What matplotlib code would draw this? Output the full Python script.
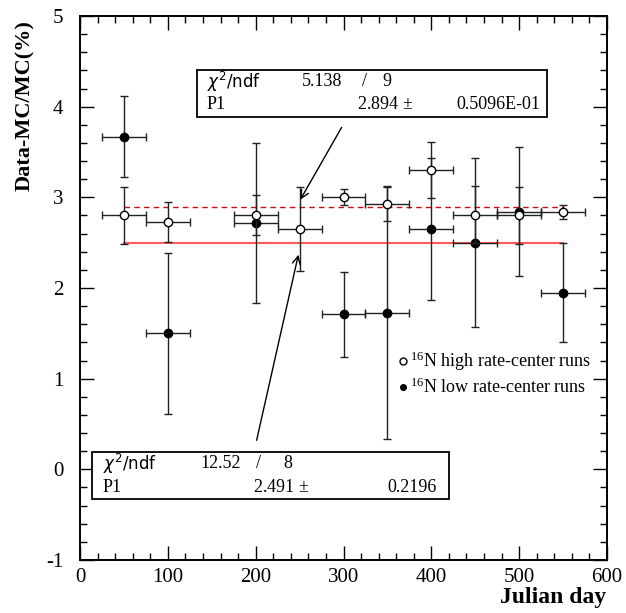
import matplotlib
matplotlib.use("Agg")
import matplotlib.pyplot as plt
from matplotlib.ticker import MultipleLocator

# ---- data ----
days_high = [50, 100, 200, 250, 300, 350, 400, 450, 500, 550]
val_high = [2.80, 2.73, 2.81, 2.65, 3.00, 2.93, 3.30, 2.81, 2.80, 2.84]
err_high = [0.31, 0.22, 0.22, 0.46, 0.09, 0.19, 0.31, 0.31, 0.31, 0.08]

days_low = [50, 100, 200, 300, 350, 400, 450, 500, 550]
val_low = [3.67, 1.50, 2.72, 1.71, 1.72, 2.65, 2.50, 2.84, 1.95]
err_low = [0.45, 0.89, 0.88, 0.47, 1.39, 0.78, 0.93, 0.71, 0.55]

day_err = 25
fit_high = 2.894
fit_low = 2.491
fit_range = [50, 550]

legend_labels = [r"$^{16}$N high rate-center runs", r"$^{16}$N low rate-center runs"]

serif = "Liberation Serif"
plt.rcParams["mathtext.fontset"] = "custom"
plt.rcParams["mathtext.rm"] = serif
plt.rcParams["mathtext.it"] = serif + ":italic"
plt.rcParams["axes.unicode_minus"] = False

W, H = 626, 613
fig = plt.figure(figsize=(W / 100, H / 100), dpi=100)
L, R, T, B = 80, 607, 16, 560
ax = fig.add_axes([L / W, 1 - B / H, (R - L) / W, (B - T) / H])
ax.set_xlim(0, 600)
ax.set_ylim(-1, 5)

ecol = "#222222"
ax.errorbar(days_high, val_high, xerr=day_err, yerr=err_high, fmt="o", mfc="white",
            mec="black", mew=1.0, ms=6, ecolor=ecol, elinewidth=1.0, capsize=3, capthick=1.0, zorder=4)
ax.errorbar(days_low, val_low, xerr=day_err, yerr=err_low, fmt="o", mfc="black",
            mec="black", ms=6, ecolor=ecol, elinewidth=1.0, capsize=3, capthick=1.0, zorder=3)

ax.plot(fit_range, [fit_low, fit_low], color="#ff5a5a", lw=1.5, zorder=2)
ax.plot(fit_range, [fit_high, fit_high], color="#c81010", lw=1.0, ls=(0, (4, 3)), zorder=2)

# ticks
ax.xaxis.set_major_locator(MultipleLocator(100))
ax.xaxis.set_minor_locator(MultipleLocator(20))
ax.yaxis.set_major_locator(MultipleLocator(1))
ax.yaxis.set_minor_locator(MultipleLocator(0.2))
ax.tick_params(which="both", direction="in", top=True, right=True, width=1.0)
ax.tick_params(which="major", length=10)
ax.tick_params(which="minor", length=5)
ax.tick_params(axis="x", pad=6)
ax.tick_params(axis="y", pad=12)
for lab in ax.get_xticklabels() + ax.get_yticklabels():
    lab.set_fontfamily(serif)
    lab.set_fontsize(15)
for s in ax.spines.values():
    s.set_linewidth(1.4)

fig.text(606 / W, 1 - 598 / H, "Julian day", ha="right", va="center",
         fontfamily=serif, fontweight="bold", fontsize=17)
fig.text(25 / W, 1 - 20 / H, "Data-MC/MC(%)", ha="center", va="top", rotation=90,
         fontfamily=serif, fontweight="bold", fontsize=16)

# stat boxes
def px2d(px, py):
    return ((px - L) / (R - L) * 600, (B - py) / (B - T) * 6 - 1)

def box(x0, y0, x1, y1):
    a = px2d(x0, y1)
    b = px2d(x1, y0)
    ax.add_patch(plt.Rectangle(a, b[0] - a[0], b[1] - a[1], fill=True, fc="white",
                               ec="black", lw=1.3, zorder=6))

def t(px, py, s, ha="left", sans=False, size=13):
    x, y = px2d(px, py)
    if sans:
        ax.text(x, y, s, ha=ha, va="center", fontfamily="DejaVu Sans", fontsize=size - 1, zorder=7,
                math_fontfamily="dejavusans")
    else:
        ax.text(x, y, s, ha=ha, va="center", fontfamily=serif, fontsize=size, zorder=7)

box(197, 70, 547, 117)
t(207, 82, r"$\chi^2$/ndf", sans=True)
t(302, 82, "5.138")
t(365, 82, "/", ha="center")
t(387, 82, "9", ha="center")
t(207, 104, "P1")
t(357, 104, "2.894 $\\pm$")
t(540, 104, "0.5096E-01", ha="right")

box(92, 452, 449, 499)
t(103, 464, r"$\chi^2$/ndf", sans=True)
t(200, 464, "12.52")
t(258, 464, "/", ha="center")
t(288, 464, "8", ha="center")
t(103, 488, "P1")
t(253, 488, "2.491 $\\pm$")
t(437, 488, "0.2196", ha="right")

# arrows
ax.annotate("", xy=px2d(299, 202), xytext=px2d(343, 125),
            arrowprops=dict(arrowstyle="->", color="black", lw=1.0, mutation_scale=14), zorder=5)
ax.annotate("", xy=px2d(299, 252), xytext=px2d(256, 443),
            arrowprops=dict(arrowstyle="->", color="black", lw=1.0, mutation_scale=14), zorder=5)

# legend
lx, ly1 = px2d(403, 361)
_, ly2 = px2d(403, 387)
tx, _ = px2d(410, 361)
ax.plot([lx], [ly1], "o", mfc="white", mec="black", ms=5, mew=1.0)
ax.plot([lx], [ly2], "o", mfc="black", mec="black", ms=4)
ax.text(tx, ly1, legend_labels[0], fontfamily=serif, fontsize=13, va="center")
ax.text(tx, ly2, legend_labels[1], fontfamily=serif, fontsize=13, va="center")

fig.savefig("out.png", dpi=100)
